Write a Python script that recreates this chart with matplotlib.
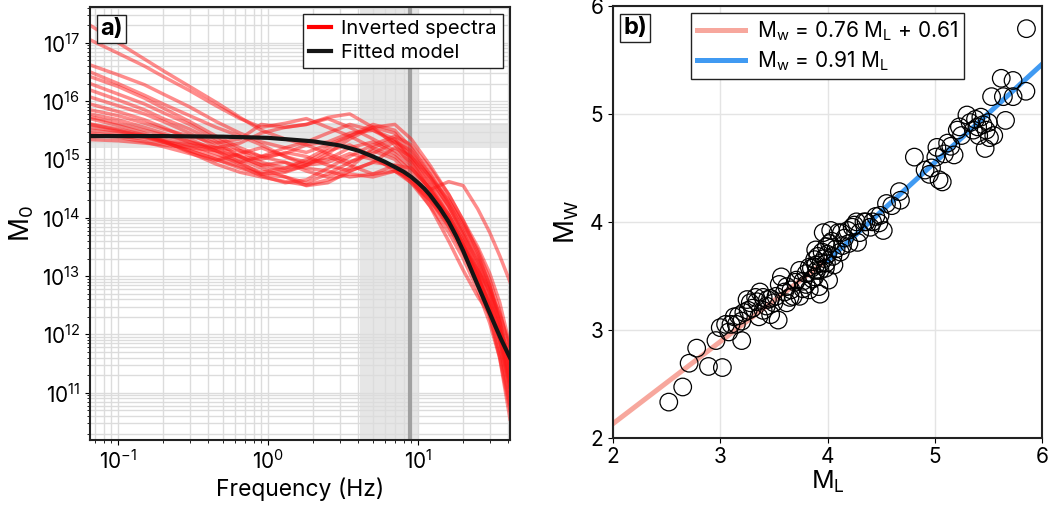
import numpy as np
import matplotlib
matplotlib.use("Agg")
import matplotlib.pyplot as plt
from matplotlib.ticker import LogLocator, NullFormatter

plt.rcParams['font.family'] = ['Inter', 'DejaVu Sans']
plt.rcParams['mathtext.fontset'] = 'custom'
plt.rcParams['mathtext.rm'] = 'Inter'
plt.rcParams['mathtext.it'] = 'Inter:italic'
plt.rcParams['mathtext.bf'] = 'Inter:bold'

# ---------------- data: panel a ----------------
freq = [0.065, 0.1, 0.15, 0.2, 0.3, 0.45, 0.65, 0.9, 1.3, 1.8, 2.5, 3.5, 5, 7, 9, 12, 16, 20, 25, 30, 35, 41]
spectra_log10 = [
    [17.30, 17.00, 16.72, 16.52, 16.25, 15.98, 15.72, 15.50, 15.35, 15.25, 15.30, 15.45, 15.50, 15.35, 15.05, 14.65, 14.20, 13.75, 13.20, 12.70, 12.10, 11.30],
    [17.05, 16.82, 16.60, 16.42, 16.18, 15.92, 15.70, 15.55, 15.62, 15.70, 15.55, 15.40, 15.20, 15.05, 14.80, 14.45, 14.00, 13.55, 13.00, 12.45, 11.90, 11.10],
    [16.62, 16.45, 16.28, 16.12, 15.90, 15.65, 15.45, 15.30, 15.20, 15.12, 15.25, 15.40, 15.55, 15.45, 15.10, 14.70, 14.20, 13.70, 13.15, 12.60, 12.00, 11.20],
    [16.50, 16.30, 16.10, 15.95, 15.75, 15.55, 15.40, 15.25, 15.05, 14.95, 15.00, 15.20, 15.30, 15.10, 14.85, 14.50, 14.05, 13.55, 13.00, 12.45, 11.80, 10.90],
    [16.42, 16.25, 16.05, 15.88, 15.65, 15.40, 15.20, 15.05, 15.10, 15.25, 15.10, 14.95, 15.10, 15.30, 15.15, 14.75, 14.25, 13.80, 13.30, 12.80, 12.20, 11.50],
    [16.30, 16.12, 15.95, 15.80, 15.60, 15.35, 15.15, 14.95, 14.85, 14.95, 15.15, 15.25, 15.05, 14.80, 14.60, 14.30, 13.85, 13.40, 12.90, 12.30, 11.60, 10.70],
    [16.19, 16.02, 15.85, 15.70, 15.52, 15.30, 15.05, 14.90, 14.95, 14.80, 14.70, 14.85, 15.20, 15.35, 15.00, 14.60, 14.15, 13.70, 13.25, 12.75, 12.20, 11.40],
    [16.07, 15.92, 15.78, 15.65, 15.45, 15.22, 15.05, 15.00, 15.12, 15.05, 14.90, 14.80, 14.95, 15.20, 15.05, 14.70, 14.30, 13.90, 13.45, 12.95, 12.40, 11.70],
    [15.95, 15.82, 15.68, 15.55, 15.35, 15.15, 14.95, 14.75, 14.70, 14.60, 14.75, 14.95, 15.15, 15.00, 14.70, 14.30, 13.85, 13.45, 12.95, 12.55, 12.10, 11.50],
    [15.85, 15.75, 15.62, 15.52, 15.40, 15.28, 15.35, 15.60, 15.55, 15.60, 15.70, 15.55, 15.35, 15.15, 14.95, 14.48, 14.62, 14.55, 14.15, 13.75, 13.35, 12.90],
    [15.73, 15.62, 15.50, 15.42, 15.30, 15.15, 15.00, 14.85, 14.70, 14.55, 14.60, 14.80, 14.95, 14.90, 14.65, 14.20, 13.60, 13.10, 12.65, 12.35, 12.05, 11.70],
    [15.61, 15.52, 15.42, 15.35, 15.25, 15.10, 14.92, 14.78, 14.85, 15.00, 15.20, 15.40, 15.60, 15.50, 15.20, 14.75, 14.30, 13.85, 13.35, 12.85, 12.30, 11.40],
    [15.55, 15.48, 15.40, 15.32, 15.20, 15.05, 14.95, 15.05, 15.20, 15.30, 15.45, 15.60, 15.50, 15.30, 15.00, 14.55, 14.05, 13.60, 13.05, 12.50, 11.90, 11.00],
    [15.50, 15.45, 15.38, 15.30, 15.15, 15.00, 14.88, 14.72, 14.60, 14.65, 14.85, 15.05, 15.25, 15.40, 15.25, 14.85, 14.40, 13.95, 13.40, 12.85, 12.20, 11.20],
    [15.42, 15.38, 15.30, 15.22, 15.10, 14.98, 15.10, 15.20, 15.05, 14.90, 14.95, 15.10, 15.00, 14.85, 14.60, 14.20, 13.75, 13.30, 12.75, 12.20, 11.60, 10.55],
    [15.34, 15.32, 15.28, 15.25, 15.20, 15.15, 15.05, 14.90, 14.80, 14.90, 15.05, 14.90, 14.75, 14.90, 14.85, 14.50, 14.00, 13.50, 12.95, 12.35, 11.65, 10.80],
    [15.60, 15.50, 15.40, 15.30, 15.15, 15.00, 14.85, 14.75, 14.78, 14.90, 15.10, 15.35, 15.55, 15.60, 15.35, 14.90, 14.40, 13.95, 13.50, 13.05, 12.55, 11.80],
    [15.45, 15.40, 15.35, 15.30, 15.25, 15.20, 15.15, 15.05, 14.95, 14.85, 14.80, 14.70, 14.75, 14.80, 14.65, 14.30, 13.90, 13.50, 13.00, 12.45, 11.90, 11.10],
    [15.70, 15.58, 15.45, 15.32, 15.12, 14.92, 14.78, 14.70, 14.62, 14.56, 14.65, 14.75, 14.70, 14.80, 14.70, 14.35, 13.95, 13.50, 13.10, 12.75, 12.35, 11.80],
    [15.78, 15.68, 15.55, 15.45, 15.30, 15.20, 15.28, 15.45, 15.55, 15.60, 15.72, 15.78, 15.55, 15.25, 14.90, 14.50, 14.05, 13.60, 13.10, 12.60, 12.00, 11.20],
]
fit_freq = [0.065, 0.2, 0.5, 1, 2, 3, 4, 5, 6, 7, 8, 9, 10, 11, 12, 14, 16, 18, 20, 24, 28, 32, 36, 41]
fit_log10 = [15.40, 15.40, 15.39, 15.37, 15.31, 15.24, 15.15, 15.05, 14.96, 14.87, 14.79, 14.70, 14.60,
             14.50, 14.39, 14.16, 13.93, 13.68, 13.43, 12.95, 12.55, 12.20, 11.90, 11.60]
corner_band = [4.12, 10.0]
corner_freq = 8.85
m0_band = [1.6e15, 4.2e15]

# ---------------- data: panel b ----------------
ML = [2.52, 2.65, 2.71, 2.78, 2.89, 3.02, 2.96, 3.20,
      3.00, 3.05, 3.10, 3.08, 3.13, 3.17, 3.20, 3.22, 3.26, 3.28, 3.30, 3.34, 3.37, 3.33, 3.40, 3.43, 3.44,
      3.47, 3.50, 3.52, 3.54, 3.47, 3.36, 3.40, 3.25, 3.15,
      3.55, 3.57, 3.60, 3.62, 3.62, 3.65, 3.66, 3.68, 3.70, 3.71, 3.74, 3.74, 3.77, 3.77, 3.80, 3.80,
      3.83, 3.83, 3.85, 3.86, 3.88, 3.88, 3.89, 3.89, 3.90, 3.91, 3.92, 3.93, 3.93, 3.94, 3.95, 3.96,
      3.97, 3.98, 3.99, 3.99, 4.00, 4.01, 4.02, 4.03, 4.04, 4.05, 4.06, 4.08, 4.10, 4.12, 4.13, 4.14,
      4.16, 4.19, 4.20, 4.23, 4.25, 4.27, 4.28, 4.30, 4.34, 4.36, 4.40, 4.42, 4.45, 4.48, 4.49, 4.52,
      4.55, 4.60,
      4.67, 4.68, 4.81, 4.91, 4.95, 4.97, 5.01, 5.04, 5.02, 5.07, 5.09, 5.12, 5.15, 5.18, 5.21, 5.23,
      5.25, 5.30, 5.33, 5.36, 5.38, 5.40, 5.41, 5.43, 5.45, 5.47, 5.48, 5.50, 5.51, 5.53, 5.55, 5.62,
      5.64, 5.66, 5.73, 5.73, 5.85, 5.855]
MW = [2.33, 2.47, 2.69, 2.83, 2.66, 2.65, 2.90, 2.90,
      3.02, 3.05, 3.05, 2.98, 3.12, 3.13, 3.08, 3.16, 3.18, 3.25, 3.20, 3.26, 3.35, 3.30, 3.30, 3.22, 3.28,
      3.14, 3.25, 3.31, 3.09, 3.29, 3.12, 3.18, 3.28, 3.05,
      3.42, 3.49, 3.35, 3.40, 3.25, 3.30, 3.37, 3.31, 3.44, 3.46, 3.31, 3.55, 3.38, 3.45, 3.52, 3.42,
      3.37, 3.58, 3.57, 3.47, 3.49, 3.65, 3.74, 3.60, 3.55, 3.68, 3.40, 3.33, 3.55, 3.62, 3.72, 3.90,
      3.66, 3.57, 3.77, 3.62, 3.70, 3.46, 3.80, 3.92, 3.82, 3.68, 3.60, 3.75, 3.90, 3.72, 3.90, 3.78,
      3.85, 3.92, 3.80, 3.95, 3.97, 4.00, 3.81, 3.90, 4.00, 4.00, 3.95, 4.00, 4.05, 3.99, 4.06, 3.92,
      4.17, 4.15,
      4.28, 4.20, 4.60, 4.48, 4.44, 4.50, 4.60, 4.39, 4.69, 4.37, 4.63, 4.73, 4.70, 4.62, 4.85, 4.88,
      4.80, 4.99, 4.92, 4.85, 4.95, 4.88, 4.80, 4.97, 4.90, 4.68, 4.85, 4.92, 4.78, 5.16, 4.80, 5.33,
      5.16, 4.94, 5.31, 5.16, 5.21, 5.79]
fit1_range = [2.0, 4.0]
fit1_coef = [0.76, 0.61]
fit2_range = [4.0, 6.0]
fit2_coef = [0.91, 0.0]

# ---------------- figure ----------------
fig = plt.figure(figsize=(10.56, 5.08), dpi=100)
axa = fig.add_axes([90/1056, 68/508, 420/1056, 433/508])
axb = fig.add_axes([613/1056, 70.3/508, 429/1056, 431.7/508])

grid_c = '#dcdcdc'
frame_c = '#222222'

# panel a
axa.set_xscale('log')
axa.set_yscale('log')
axa.axvspan(corner_band[0], corner_band[1], color='#e6e6e6', zorder=0.5, lw=0)
axa.axhspan(m0_band[0], m0_band[1], color='#e6e6e6', zorder=0.5, lw=0)
axa.axvline(corner_freq, color='#a0a0a0', lw=3, zorder=0.8)
for s in spectra_log10:
    axa.plot(freq, 10 ** np.array(s), color='#ff1a1a', alpha=0.5, lw=2.5, zorder=2)
axa.plot(fit_freq, 10 ** np.array(fit_log10), color='#151515', lw=3, zorder=3)
axa.set_xlim(0.065, 41)
axa.set_ylim(1.55e10, 4.1e17)
axa.yaxis.set_major_locator(LogLocator(base=10, numticks=20))
axa.yaxis.set_minor_locator(LogLocator(base=10, subs=np.arange(2, 10), numticks=20))
axa.yaxis.set_minor_formatter(NullFormatter())
axa.xaxis.set_minor_formatter(NullFormatter())
axa.grid(True, which='both', color=grid_c, lw=1.0, zorder=0)
axa.set_axisbelow(True)
axa.set_xlabel('Frequency (Hz)', fontsize=16.5, labelpad=3)
axa.set_ylabel('M$_0$', fontsize=19, labelpad=4)
axa.tick_params(labelsize=15)
h1, = axa.plot([], [], color='#ff0000', lw=3, label='Inverted spectra')
h2, = axa.plot([], [], color='#151515', lw=3, label='Fitted model')
leg = axa.legend(handles=[h1, h2], loc='upper right', fontsize=14.5, fancybox=False,
                 edgecolor='#222222', framealpha=1, borderpad=0.3, handlelength=1.1,
                 handletextpad=0.5, borderaxespad=0.35, labelspacing=0.3)
leg.get_frame().set_linewidth(1.0)
axa.text(0.024, 0.975, 'a)', transform=axa.transAxes, fontsize=17, fontweight='bold',
         va='top', ha='left', zorder=5,
         bbox=dict(boxstyle='square,pad=0.12', fc='white', ec='#222222', lw=1))
for sp in axa.spines.values():
    sp.set_color(frame_c)
    sp.set_linewidth(1.5)

# panel b
x1 = np.array(fit1_range)
x2 = np.array(fit2_range)
axb.plot(x1, fit1_coef[0] * x1 + fit1_coef[1], color='#f58a7c', alpha=0.75, lw=3.6, zorder=2,
         label=r'M$_\mathregular{w}$ = 0.76 M$_\mathregular{L}$ + 0.61')
axb.plot(x2, fit2_coef[0] * x2 + fit2_coef[1], color='#1e88f0', alpha=0.85, lw=3.6, zorder=2,
         label=r'M$_\mathregular{w}$ = 0.91 M$_\mathregular{L}$')
axb.scatter(ML, MW, s=160, facecolors='none', edgecolors='black', linewidths=0.9, zorder=3)
axb.set_xlim(2, 6)
axb.set_ylim(2, 6)
axb.set_xticks([2, 3, 4, 5, 6])
axb.set_yticks([2, 3, 4, 5, 6])
axb.grid(True, color='#e4e4e4', lw=1.0, zorder=0)
axb.set_axisbelow(True)
axb.set_xlabel('M$_\\mathregular{L}$', fontsize=18, labelpad=1)
axb.set_ylabel('M$_\\mathregular{W}$', fontsize=19, labelpad=6)
axb.tick_params(labelsize=15)
legb = axb.legend(loc='upper center', fontsize=15, fancybox=False, edgecolor='#222222',
                  framealpha=1, borderpad=0.3, handlelength=2.3, handletextpad=0.6,
                  borderaxespad=0.35, labelspacing=0.3)
legb.get_frame().set_linewidth(1.0)
axb.text(0.024, 0.975, 'b)', transform=axb.transAxes, fontsize=17, fontweight='bold',
         va='top', ha='left', zorder=5,
         bbox=dict(boxstyle='square,pad=0.12', fc='white', ec='#222222', lw=1))
for sp in axb.spines.values():
    sp.set_color(frame_c)
    sp.set_linewidth(1.5)

fig.savefig('out.png', dpi=100)
